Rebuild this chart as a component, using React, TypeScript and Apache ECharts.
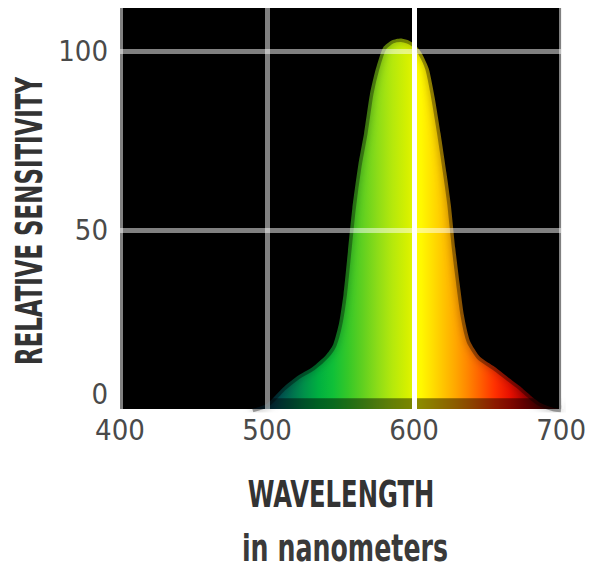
import React, { useEffect, useRef } from 'react';
import * as echarts from 'echarts';

const wavelengths = [490, 500, 511, 520, 531, 540, 545, 549, 552, 555, 558, 562, 566, 570, 574, 579, 585, 591, 596, 600, 605, 610, 614, 618, 622, 625, 628, 631, 634, 638, 645, 655, 665, 673, 680, 686, 695, 700];
const sensitivity = [0, 1.5, 6, 9, 11.7, 15, 18, 24, 32, 44, 56, 68, 77, 88, 95, 101, 103, 103.5, 103, 102, 99.5, 95, 87, 77, 66, 57, 45, 35, 26, 19, 14.5, 11.7, 8.5, 6, 3.5, 1.7, 0.3, 0];

const xTicks = [400, 500, 600, 700];
const yTicks = [0, 50, 100];

const spectrumNm = [495, 505, 515, 525, 535, 545, 555, 565, 575, 585, 595, 599, 601, 605, 612, 620, 628, 636, 645, 655, 665, 675, 690];
const spectrumColors = ['#00304a', '#004a5a', '#006a50', '#00904a', '#00b040', '#10c038', '#35c828', '#60d020', '#8cdc18', '#b4e80c', '#d4f000', '#e0f400', '#ffff00', '#fff800', '#ffe000', '#ffc400', '#ffa800', '#ff8800', '#ff6000', '#ff3000', '#e81000', '#b00000', '#600000'];

const xTitle = 'WAVELENGTH';
const xSubtitle = 'in nanometers';
const yTitle = 'RELATIVE SENSITIVITY';

const NARROW = '"Liberation Sans Narrow", "DejaVu Sans Condensed", "Roboto Condensed", sans-serif';

export default function App() {
  const ref = useRef<HTMLDivElement>(null);
  useEffect(() => {
    if (!ref.current) return;
    const chart = echarts.init(ref.current, undefined, { renderer: 'svg' });
    const first = wavelengths[0];
    const last = wavelengths[wavelengths.length - 1];
    const stops = spectrumNm.map((nm, i) => ({ offset: (nm - first) / (last - first), color: spectrumColors[i] }));
    const gray = 'rgba(255,255,255,0.5)';
    chart.setOption({
      animation: false,
      grid: { left: 120, top: 8, width: 446, height: 401, show: true, backgroundColor: '#000', borderWidth: 0 },
      xAxis: {
        type: 'value', min: 400, max: 700, interval: 100,
        axisLine: { show: false }, axisTick: { show: false }, splitLine: { show: false },
        axisLabel: {
          margin: 6, color: '#4a4a4a', fontSize: 29, fontFamily: NARROW,
          formatter: (v: number) => (xTicks.includes(v) ? String(v) : ''),
        },
      },
      yAxis: {
        type: 'value', min: 0, max: 112, interval: 50,
        axisLine: { show: false }, axisTick: { show: false }, splitLine: { show: false },
        axisLabel: {
          margin: 12, color: '#4a4a4a', fontSize: 29, fontFamily: NARROW, lineHeight: 30,
          formatter: (v: number) => (yTicks.includes(v) ? (v === 0 ? '0\n ' : String(v)) : ''),
        },
      },
      series: [
        {
          type: 'line',
          data: wavelengths.map((w, i) => [w, sensitivity[i]]),
          smooth: 0.2,
          showSymbol: false,
          z: 2,
          lineStyle: { color: 'rgba(0,0,0,0.35)', width: 7, shadowBlur: 8, shadowColor: 'rgba(0,0,0,0.8)' },
          areaStyle: { opacity: 1, color: new echarts.graphic.LinearGradient(0, 0, 1, 0, stops) },
          markArea: {
            silent: true,
            z: 3,
            itemStyle: { color: 'rgba(0,0,0,0.45)', borderWidth: 0 },
            data: [[{ yAxis: 0 }, { yAxis: 3 }]],
          },
          markLine: {
            silent: true,
            z: 5,
            symbol: 'none',
            label: { show: false },
            data: [
              ...yTicks.filter((v) => v > 0).map((v) => ({ yAxis: v, lineStyle: { color: gray, width: 5, type: 'solid' } })),
              ...xTicks.map((v) => ({ xAxis: v, lineStyle: { color: v === 600 ? '#ffffff' : gray, width: 5, type: 'solid' } })),
            ],
          },
        },
      ],
      graphic: [
        {
          type: 'text', x: 29, y: 221, rotation: Math.PI / 2, scaleX: 0.67,
          style: { text: yTitle, fontSize: 38, fontWeight: 'bold', fontFamily: NARROW, fill: '#333', align: 'center', verticalAlign: 'middle' },
        },
        {
          type: 'text', x: 341, y: 494, scaleX: 0.71,
          style: { text: xTitle, fontSize: 38, fontWeight: 'bold', fontFamily: NARROW, fill: '#333', align: 'center', verticalAlign: 'middle' },
        },
        {
          type: 'text', x: 345, y: 548, scaleX: 0.74,
          style: { text: xSubtitle, fontSize: 38, fontWeight: 'bold', fontFamily: NARROW, fill: '#3a3a3a', align: 'center', verticalAlign: 'middle' },
        },
      ],
    });
    return () => chart.dispose();
  }, []);
  return <div ref={ref} style={{ position: 'absolute', left: 0, top: 0, width: 589, height: 569 }} />;
}
